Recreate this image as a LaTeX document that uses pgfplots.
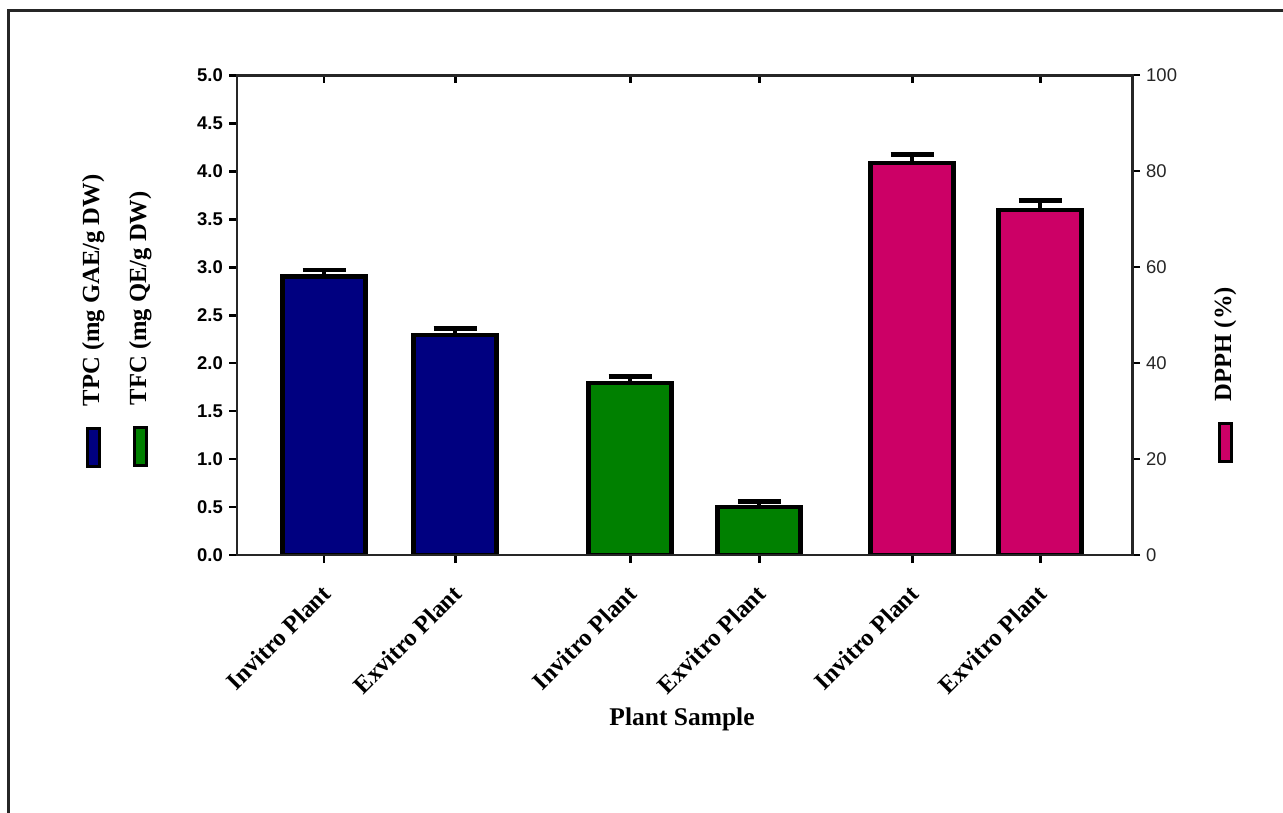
\documentclass[border=0pt]{standalone}
\usepackage{pgfplots}
\pgfplotsset{compat=1.18}
\usepackage{fontspec}
\setmainfont{Liberation Serif}
\setsansfont{Liberation Sans}
\definecolor{tpcblue}{RGB}{0,0,128}
\definecolor{tfcgreen}{RGB}{0,128,0}
\definecolor{dpphpink}{RGB}{204,0,102}
\newcommand{\swatch}[1]{{\setlength{\fboxrule}{1.6pt}\setlength{\fboxsep}{0pt}\raisebox{0.5pt}{\fcolorbox{black}{#1}{\rule{0pt}{0.19cm}\rule{0.70cm}{0pt}}}}}
\begin{document}
\begin{tikzpicture}
\path[use as bounding box] (0,0) rectangle (25.66cm,16.24cm);
\draw[line width=0.06cm, black!85] (0.18cm,-0.1cm) -- (0.18cm,16.02cm) -- (25.8cm,16.02cm);
\pgfplotsset{
  common/.style={
    scale only axis, width=17.9cm, height=9.6cm,
    at={(4.74cm,5.14cm)}, anchor=south west,
    xmin=237, xmax=1132,
    axis line style={line width=1.7pt, black!85},
    major tick length=0.16cm,
    every tick/.style={line width=1.7pt, black},
    /pgf/number format/assume math mode=true,
  },
  barstyle/.style={ybar, bar shift=0pt, bar width=83, draw=black, line width=2.6pt,
    error bars/y dir=plus, error bars/y explicit,
    error bars/error mark=|,
    error bars/error bar style={line width=2.6pt, black},
    error bars/error mark options={line width=2.6pt, mark size=0.43cm, black}},
}
% left axis
\begin{axis}[common,
  ymin=0, ymax=5, ytick={0,0.5,...,5.01},
  ytick pos=left, xtick pos=left, tick align=outside,
  yticklabel style={font=\sffamily\bfseries\fontsize{10.5}{12}\selectfont, /pgf/number format/.cd, fixed, fixed zerofill, precision=1},
  xtick={324,455,630,759,912,1040},
  xticklabels={Invitro Plant,Exvitro Plant,Invitro Plant,Exvitro Plant,Invitro Plant,Exvitro Plant},
  xticklabel style={rotate=45, anchor=north east, font=\bfseries\fontsize{14}{16}\selectfont, xshift=-6.2pt, yshift=-3.2pt},
]
\addplot[barstyle, fill=tpcblue] coordinates {(324,2.90) +- (0,0.07) (455,2.29) +- (0,0.07)};
\addplot[barstyle, fill=tfcgreen] coordinates {(630,1.79) +- (0,0.07) (759,0.50) +- (0,0.06)};
\end{axis}
% right axis
\begin{axis}[common,
  ymin=0, ymax=100, ytick={0,20,...,100},
  ytick pos=right, tick align=outside,
  xtick=\empty,
  yticklabel style={font=\sffamily\fontsize{10.5}{12}\selectfont, black!85},
]
\addplot[barstyle, fill=dpphpink] coordinates {(912,81.7) +- (0,1.7) (1040,71.9) +- (0,1.9)};
\end{axis}
% top inward ticks
\begin{axis}[common,
  ymin=0, ymax=5, ytick=\empty,
  xtick pos=right, tick align=inside,
  xtick={324,455,630,759,912,1040}, xticklabels={},
]
\end{axis}
\node[font=\bfseries\fontsize{14.5}{16}\selectfont] at (13.64cm,1.85cm) {Plant Sample};
\node[rotate=90, anchor=base west, font=\bfseries\fontsize{14}{16}\selectfont] at (1.98cm,6.76cm) {\swatch{tpcblue}\hspace{0.42cm}TPC (mg GAE/g DW)};
\node[rotate=90, anchor=base west, font=\bfseries\fontsize{14}{16}\selectfont] at (2.92cm,6.78cm) {\swatch{tfcgreen}\hspace{0.42cm}TFC (mg QE/g DW)};
\node[rotate=90, anchor=base west, font=\bfseries\fontsize{14}{16}\selectfont] at (24.62cm,6.86cm) {\swatch{dpphpink}\hspace{0.42cm}DPPH (\%)};
\end{tikzpicture}
\end{document}
